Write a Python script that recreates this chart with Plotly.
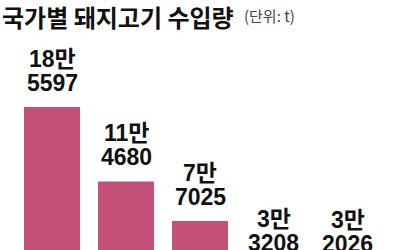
import plotly.graph_objects as go

# Pork imports by country, in tonnes (ranked)
ranks = ["1", "2", "3", "4", "5"]
imports_t = [185597, 114680, 77025, 33208, 32026]

title_text = "국가별 돼지고기 수입량"
unit_text = "(단위: t)"

BAR_COLOR = "#C44F79"
W, H = 400, 250
Y_RANGE = [49400, 287500]
X_RANGE = [-0.703, 4.703]
LABEL_FONT = "Liberation Sans, Arial, Noto Sans CJK KR, sans-serif"

fig = go.Figure(
    go.Bar(
        x=list(range(len(ranks))),
        y=imports_t,
        marker=dict(color=BAR_COLOR, line=dict(width=0)),
        width=0.757,
        hoverinfo="skip",
    )
)

# data units per pixel on the value axis
units_per_px = (Y_RANGE[1] - Y_RANGE[0]) / H


def man_split(v):
    """Split a value into its 만 (10,000) part and remainder."""
    return f"{v // 10000}만", f"{v % 10000}"


annotations = []
for i, v in enumerate(imports_t):
    top_line, bottom_line = man_split(v)
    for text, px_above in ((bottom_line, 24), (top_line, 48)):
        annotations.append(
            dict(
                x=i, y=v + px_above * units_per_px,
                xref="x", yref="y",
                text=text, showarrow=False,
                xanchor="center", yanchor="middle",
                font=dict(family=LABEL_FONT, size=23, color="#111111", weight="bold"),
            )
        )

annotations.append(
    dict(
        x=0, y=1, xref="paper", yref="paper",
        xanchor="left", yanchor="top", xshift=0, yshift=3,
        text=title_text, showarrow=False,
        font=dict(family="Noto Sans CJK KR", size=24, color="#111111", weight="bold"),
    )
)
annotations.append(
    dict(
        x=0, y=1, xref="paper", yref="paper",
        xanchor="left", yanchor="top", xshift=242, yshift=-3,
        text=unit_text, showarrow=False,
        font=dict(family="Noto Sans CJK KR", size=15, color="#444444"),
    )
)

fig.update_layout(
    width=W, height=H,
    margin=dict(l=0, r=0, t=0, b=0),
    paper_bgcolor="white", plot_bgcolor="white",
    showlegend=False,
    xaxis=dict(range=X_RANGE, visible=False, fixedrange=True),
    yaxis=dict(range=Y_RANGE, visible=False, fixedrange=True),
    annotations=annotations,
)

fig.write_html("out.html")
